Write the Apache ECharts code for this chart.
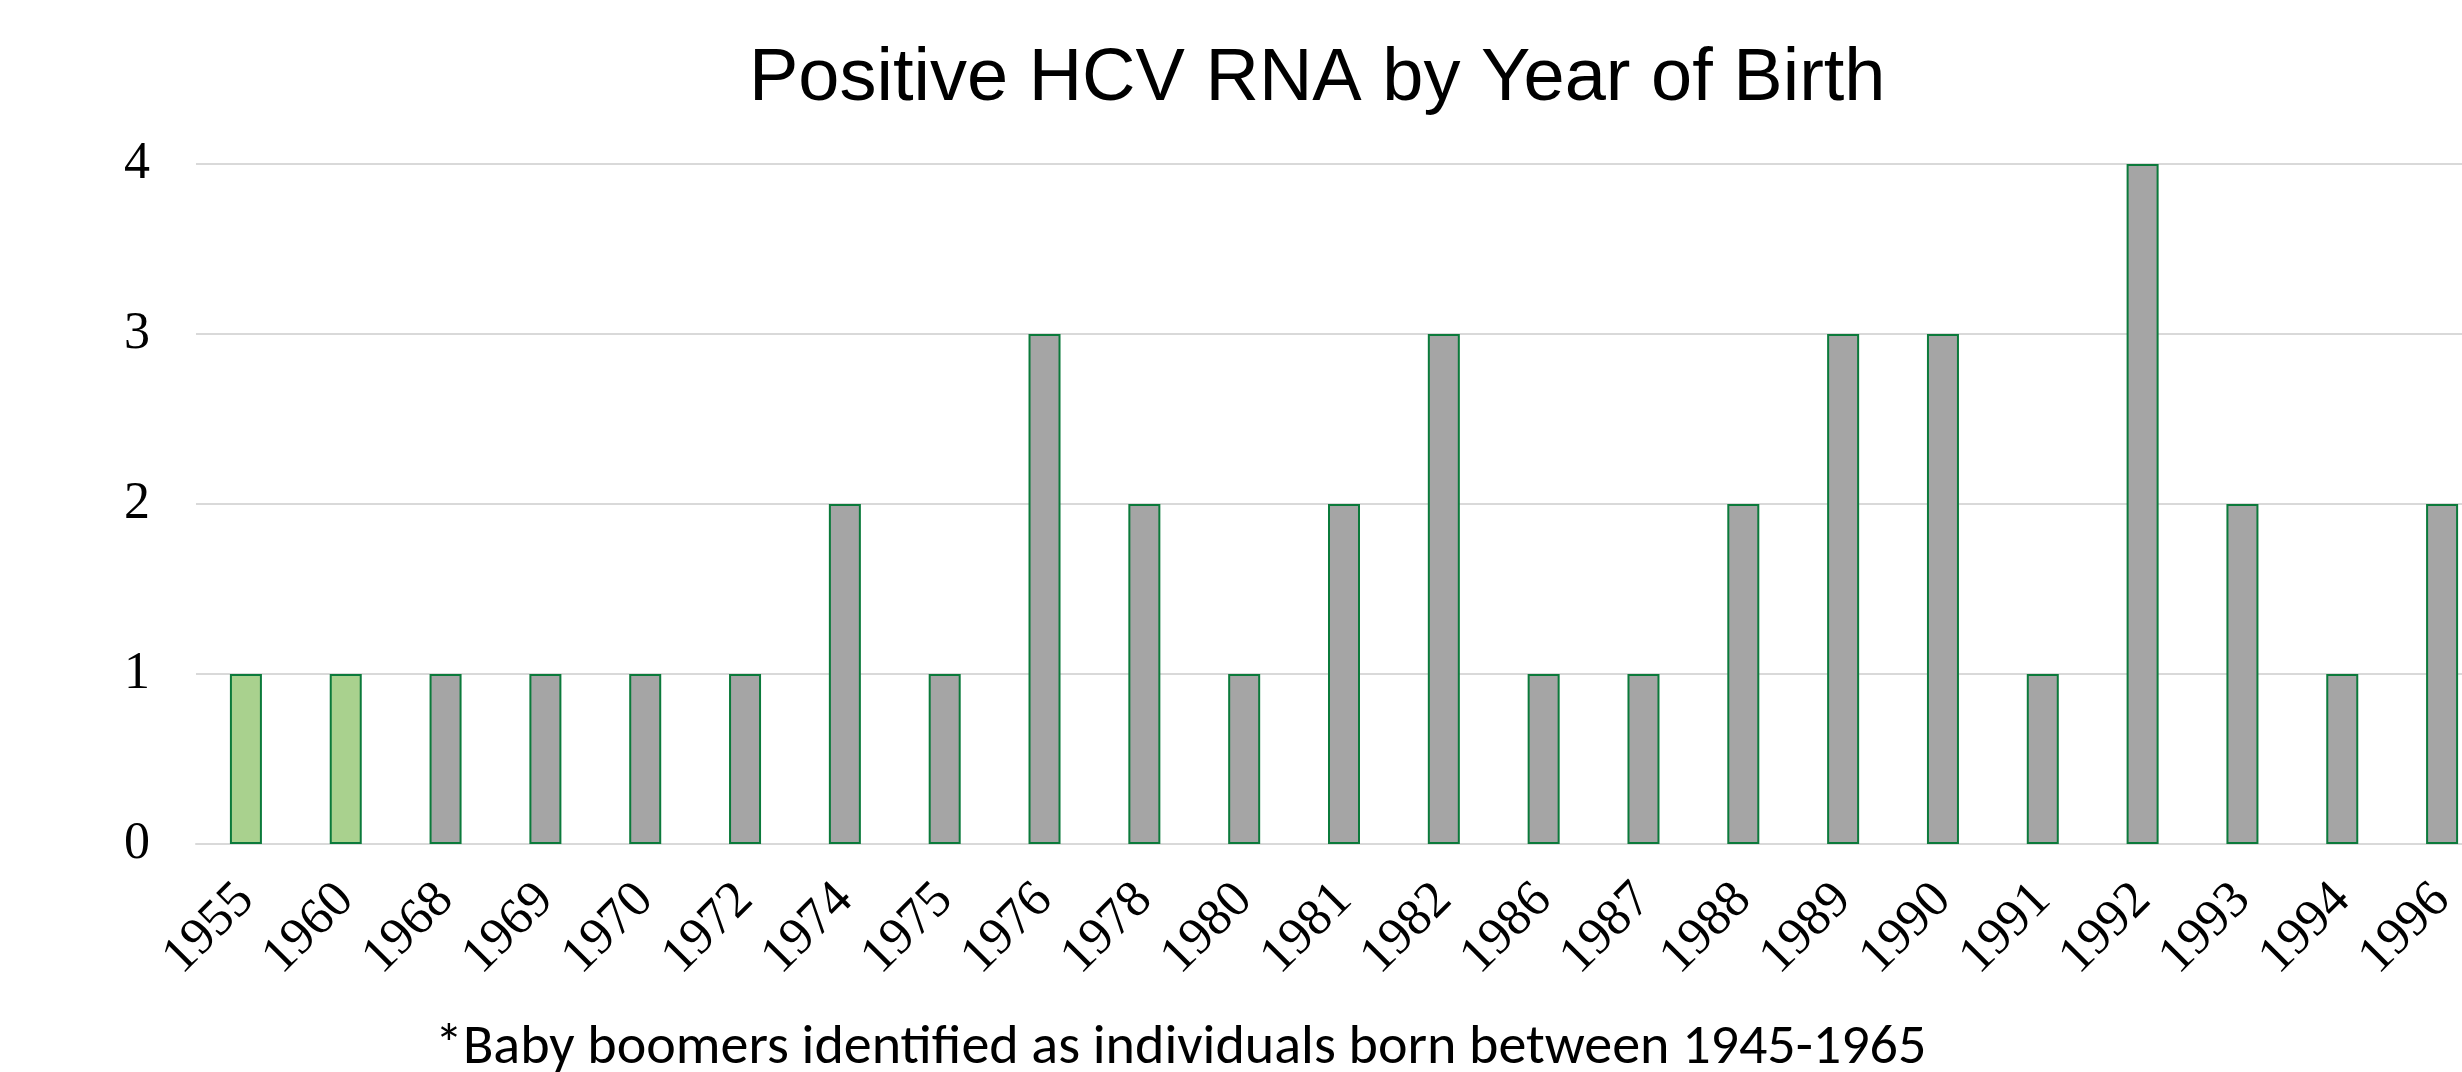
<!DOCTYPE html>
<html>
<head>
<meta charset="utf-8">
<script src="https://cdn.jsdelivr.net/npm/echarts@6/dist/echarts.min.js"></script>
<style>
	html, body { margin: 0; padding: 0; background: #fff; }
	#chart_container { width: 2462px; height: 1072px; }
</style>
</head>
<body>
<div id="chart_container"></div>
<script>
const birthYears = ["1955", "1960", "1968", "1969", "1970", "1972", "1974", "1975", "1976", "1978", "1980", "1981",
	"1982", "1986", "1987", "1988", "1989", "1990", "1991", "1992", "1993", "1994", "1996"]
const positiveCounts = [1, 1, 1, 1, 1, 1, 2, 1, 3, 2, 1, 2, 3, 1, 1, 2, 3, 3, 1, 4, 2, 1, 2]
const yTicks = [0, 1, 2, 3, 4]
const boomerRange = [1945, 1965]

const titleText = "Positive HCV RNA by Year of Birth"
const footnoteText = "*Baby boomers identified as individuals born between 1945-1965"

const boomerFill = "#A9D18E"
const otherFill = "#A5A5A5"
const barBorder = "#0B7A3B"

const chart = echarts.init(document.getElementById("chart_container"))

const barData = positiveCounts.map((value, i) => {
	const year = Number(birthYears[i])
	const isBoomer = year >= boomerRange[0] && year <= boomerRange[1]
	return {
		value,
		itemStyle: { color: isBoomer ? boomerFill : otherFill },
	}
})

chart.setOption({
	animation: false,
	title: [
		{
			text: titleText,
			left: 744,
			top: 38,
			textStyle: {
				fontFamily: "Liberation Sans",
				fontSize: 74,
				fontWeight: "normal",
				color: "#000",
			},
		},
		{
			text: footnoteText,
			left: 430,
			top: 1016,
			textStyle: {
				fontFamily: "Carlito, Lato",
				fontSize: 56,
				fontWeight: "normal",
				color: "#000",
			},
		},
	],
	grid: {
		left: 196,
		right: -30,
		top: 164,
		bottom: 228,
		outerBoundsMode: "none",
	},
	xAxis: {
		type: "category",
		data: birthYears,
		axisTick: { show: false },
		axisLine: { lineStyle: { color: "#D9D9D9", width: 2 } },
		axisLabel: {
			rotate: 45,
			margin: 48,
			interval: 0,
			fontFamily: "Liberation Serif",
			fontSize: 52,
			color: "#000",
		},
	},
	yAxis: {
		type: "value",
		min: yTicks[0],
		max: yTicks[yTicks.length - 1],
		interval: 1,
		axisLine: { show: false },
		axisTick: { show: false },
		splitLine: { lineStyle: { color: "#D9D9D9", width: 2 } },
		axisLabel: {
			margin: 46,
			fontFamily: "Liberation Serif",
			fontSize: 52,
			color: "#000",
		},
	},
	series: [
		{
			type: "bar",
			data: barData,
			barWidth: 32,
			itemStyle: {
				borderColor: barBorder,
				borderWidth: 2,
			},
		},
	],
})
</script>
</body>
</html>
